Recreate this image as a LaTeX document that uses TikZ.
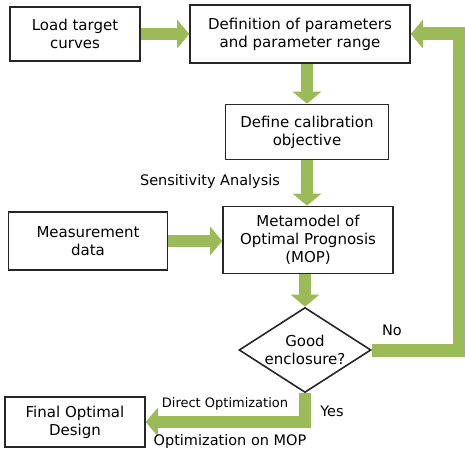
\documentclass[tikz,border=0pt]{standalone}
\usepackage{fontspec}
\setmainfont{DejaVu Sans}
\usepackage{xcolor}
\usetikzlibrary{arrows.meta, shapes.geometric}
\definecolor{leaf}{HTML}{9BBB59}

\begin{document}
\begin{tikzpicture}[x=1pt, y=-1pt,
    box/.style={draw=black!85, line width=1.6pt, align=center, inner sep=2pt,
        font=\fontsize{15}{18}\selectfont},
    flow/.style={line width=12pt, leaf, line join=miter,
        -{Triangle[length=12pt, width=28pt]}},
    lbl/.style={font=\fontsize{14.5}{17}\selectfont}]
\useasboundingbox (0,0) rectangle (465,454);

\node[box, minimum width=130pt, minimum height=54pt] (load) at (75,34) {Load target\\curves};
\node[box, minimum width=220pt, minimum height=58pt] (def) at (300,34) {Definition of parameters\\and parameter range};
\node[box, minimum width=163pt, minimum height=55pt] (calib) at (307,132) {Define calibration\\objective};
\node[box, minimum width=159pt, minimum height=58pt] (meas) at (88,241) {Measurement\\data};
\node[box, minimum width=170pt, minimum height=67pt] (mop) at (308,240) {Metamodel of\\Optimal Prognosis\\(MOP)};
\node[box, diamond, aspect=1.55, inner sep=-1pt, minimum width=132pt, minimum height=85pt] (good) at (305,350) {Good\\enclosure?};
\node[box, minimum width=140pt, minimum height=50pt] (final) at (75,422) {Final Optimal\\Design};
\coordinate (turn) at (459,350);

\draw[flow] (load.east) -- (def.west);
\draw[flow] (calib.north |- def.south) -- (calib.north);
\draw[flow] (calib.south) -- (calib.south |- mop.north);
\draw[flow] (meas.east) -- (meas.east -| mop.west);
\draw[flow] (good.north |- mop.south) -- (good.north);
\draw[flow, line width=13pt] (good.east) -- (turn) |- (def.east);
\draw[flow] (good.south) |- (final.east);

\node[lbl] (sens) at (210,182) {Sensitivity Analysis};
\node[lbl] (no) at (392,330) {No};
\node[lbl] (yes) at (332,411) {Yes};
\node[lbl, font=\fontsize{13}{15}\selectfont] (direct) at (225,404) {Direct Optimization};
\node[lbl] (onmop) at (230,441) {Optimization on MOP};
\end{tikzpicture}
\end{document}
